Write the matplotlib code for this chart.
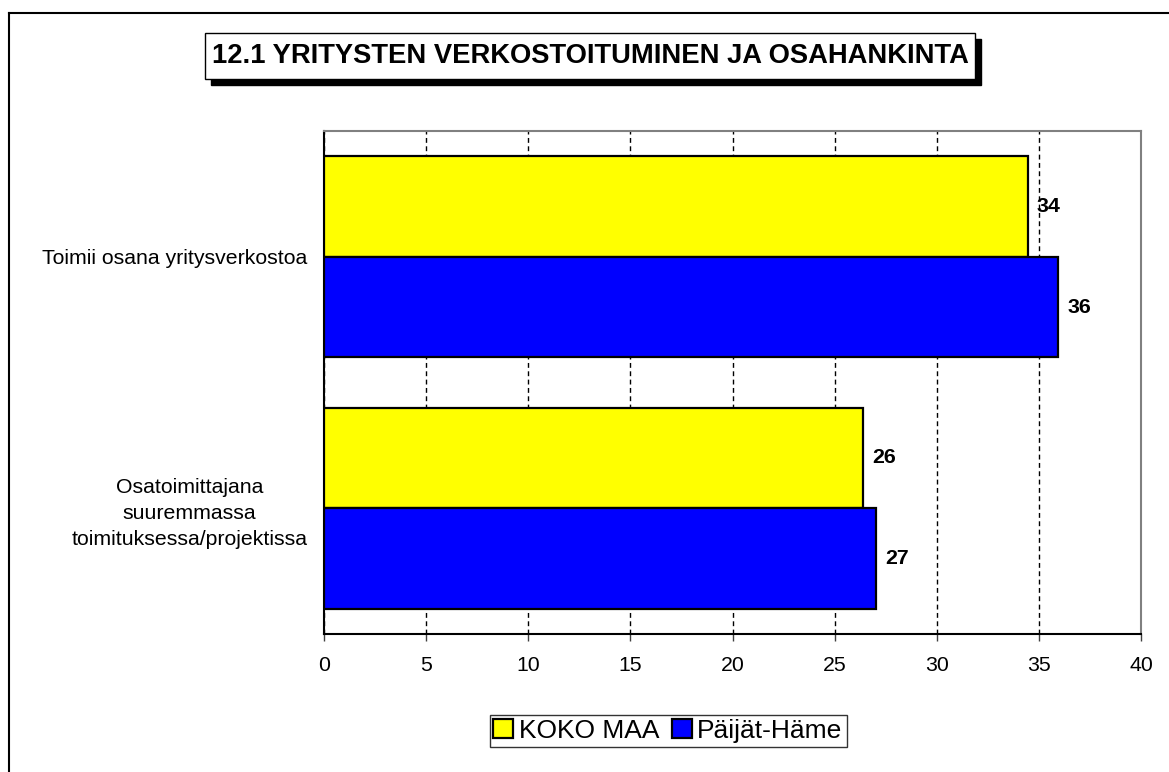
import matplotlib
matplotlib.use("Agg")
import matplotlib.pyplot as plt
from matplotlib.patches import Rectangle
from matplotlib.lines import Line2D
import numpy as np

plt.rcParams['font.family'] = ['Liberation Sans', 'DejaVu Sans']

title = "12.1 YRITYSTEN VERKOSTOITUMINEN JA OSAHANKINTA"
categories = ["Toimii osana yritysverkostoa",
              "Osatoimittajana\nsuuremmassa\ntoimituksessa/projektissa"]
series_names = ["KOKO MAA", "Päijät-Häme"]
koko_maa = [34.45, 26.4]
paijat_hame = [35.95, 27.05]
xticks = [0, 5, 10, 15, 20, 25, 30, 35, 40]

fig = plt.figure(figsize=(11.69, 7.72), dpi=100)
W, H = 1169, 772

def fx(px):
    return px / W

def fy(py):
    return 1 - py / H

ax = fig.add_axes([fx(324), fy(634), fx(1141) - fx(324), fy(131) - fy(634)])

ypos = np.array([1.0, 0.0])
bh = 0.4
b1 = ax.barh(ypos + bh / 2, koko_maa, height=bh, color="#ffff00", edgecolor="black", linewidth=1.6, label=series_names[0], zorder=3)
b2 = ax.barh(ypos - bh / 2, paijat_hame, height=bh, color="#0000ff", edgecolor="black", linewidth=1.6, label=series_names[1], zorder=3)

for bars, vals in ((b1, koko_maa), (b2, paijat_hame)):
    for rect, v in zip(bars, vals):
        ax.annotate(f"{round(v):d}", xy=(v, rect.get_y() + rect.get_height() / 2),
                    xytext=(6.5, 0), textcoords="offset points", ha="left", va="center",
                    fontsize=15.4, fontweight="bold", zorder=5)

ax.set_xlim(0, 40)
ax.set_ylim(-0.5, 1.5)
ax.set_xticks(xticks)
ax.set_xticklabels([str(t) for t in xticks], fontsize=15.3)
ax.set_yticks(ypos)
ax.set_yticklabels(categories, fontsize=15.3, multialignment="center", linespacing=1.45)
ax.tick_params(axis="y", length=0, pad=12)
ax.tick_params(axis="x", direction="out", length=5, width=1, color="#404040", pad=11)

ax.xaxis.grid(True, color="black", linestyle=(0, (3.5, 2.5)), linewidth=1)
ax.set_axisbelow(True)
for s in ("top", "right"):
    ax.spines[s].set_color("#808080")
    ax.spines[s].set_linewidth(1.5)
for s in ("left", "bottom"):
    ax.spines[s].set_color("black")
    ax.spines[s].set_linewidth(1.5)

# figure border (left and top)
fig.add_artist(Line2D([fx(8.5), fx(8.5)], [0, fy(12.5)], transform=fig.transFigure, color="black", linewidth=1.5))
fig.add_artist(Line2D([fx(8.5), 1], [fy(12.5), fy(12.5)], transform=fig.transFigure, color="black", linewidth=1.5))

# title box with shadow
bx0, bx1, by0, by1 = 205, 975, 33, 79
fig.add_artist(Rectangle((fx(bx0 + 6), fy(by1 + 6)), fx(bx1 - bx0), fy(by0) - fy(by1),
                         transform=fig.transFigure, facecolor="black", edgecolor="black"))
fig.add_artist(Rectangle((fx(bx0), fy(by1)), fx(bx1 - bx0), fy(by0) - fy(by1),
                         transform=fig.transFigure, facecolor="white", edgecolor="black", linewidth=1))
fig.text(fx((bx0 + bx1) / 2), fy((by0 + by1) / 2), title, ha="center", va="center",
         fontsize=19.7, fontweight="bold")

leg = fig.legend(handles=[b1, b2], labels=series_names, loc="center",
                 bbox_to_anchor=(fx(668), fy(731)), ncol=2, fontsize=19, frameon=True,
                 fancybox=False, edgecolor="black", handlelength=0.75, handleheight=0.75,
                 handletextpad=0.2, columnspacing=0.5, borderpad=0.15, borderaxespad=0)
leg.get_frame().set_linewidth(1)

fig.savefig("out.png", dpi=100)
